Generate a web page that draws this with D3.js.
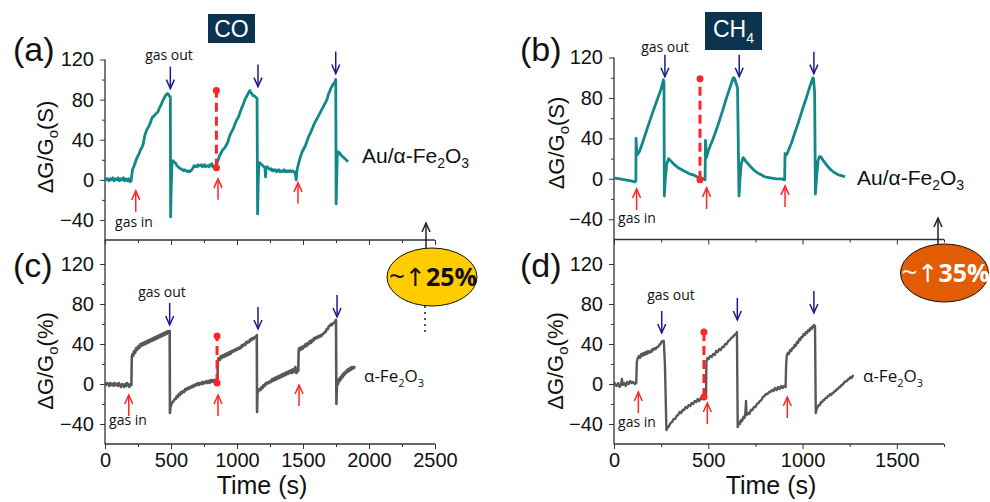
<!DOCTYPE html>
<html><head><meta charset="utf-8">
<script src="https://cdn.jsdelivr.net/npm/d3@7"></script>
<style>
body{margin:0;background:#fff}
text{font-family:"Liberation Sans",Arial,sans-serif}
</style>
</head><body><svg id="chart" width="990" height="502"></svg>
<script>
// ---- data: conductance response [time (s), ΔG/Go] ----
const auCO = [
[0,2],[10,0],[20,1],[30,-1],[40,1],[50,0],[60,2],[70,-1],[80,1],[90,0],[100,2],[110,-1],[120,1],[130,0],[140,2],[150,-1],[160,1],[170,-1],[180,1],[190,-2],[198,-1],
[204,6],[210,11],[218,13],[226,16],[234,19],[242,22],[250,24],[258,26],[266,29],[274,31],[282,33],[290,36],[298,42],[306,46],[314,49],[322,51],[330,53],[338,55],[346,58],[354,61],[362,63],[370,63],[378,65],[386,66],[394,67],[402,68],[410,71],[418,73],[426,75],[434,78],[442,80],[450,82],[458,84],[466,85],[474,86],[482,85],[490,83],[495,83],
[497,-37],[502,-5],[508,17],[514,19],[522,18],[530,17],[538,16],[546,14],[554,13],[562,12],[570,11],[578,11],[586,10],[594,9],[602,10],[610,9],[618,9],[626,8],[634,9],[642,8],[650,9],[658,10],[666,12],[674,14],[682,13],[690,14],[698,13],[706,15],[714,14],[722,14],[730,15],[738,13],[746,14],[754,15],[762,13],[770,14],[778,14],[786,13],[794,15],[802,14],[810,16],[818,13],[826,13],[834,12],[840,12],
[846,15],[852,18],[860,21],[868,24],[876,26],[884,28],[892,30],[900,31],[908,32],[916,34],[924,36],[932,38],[940,42],[948,45],[956,47],[964,49],[972,51],[980,54],[988,57],[996,59],[1004,61],[1012,63],[1020,66],[1028,69],[1036,72],[1044,74],[1052,77],[1060,80],[1068,82],[1076,84],[1084,86],[1092,88],[1098,89],[1104,87],[1112,86],[1120,84],[1128,84],[1136,83],[1144,82],[1152,81],
[1156,-34],[1160,-5],[1166,15],[1172,17],[1180,16],[1188,15],[1196,14],[1204,13],[1212,12],[1216,3],[1220,12],[1228,13],[1236,12],[1244,11],[1252,10],[1260,11],[1268,9],[1276,10],[1284,9],[1292,10],[1300,8],[1308,9],[1316,10],[1324,8],[1332,9],[1340,8],[1348,9],[1356,10],[1364,8],[1372,9],[1380,8],[1388,9],[1396,8],[1404,9],[1412,8],[1420,9],[1428,8],[1436,8],[1442,6],[1448,0],[1454,9],
[1462,14],[1470,18],[1478,22],[1486,25],[1494,28],[1502,30],[1510,32],[1518,34],[1526,37],[1534,40],[1542,43],[1550,45],[1558,47],[1566,50],[1574,52],[1582,55],[1590,57],[1598,59],[1606,61],[1614,63],[1622,65],[1630,67],[1638,69],[1646,71],[1654,73],[1662,75],[1670,77],[1678,79],[1686,82],[1694,86],[1702,88],[1710,91],[1718,93],[1726,95],[1734,96],[1742,98],[1748,100],
[1751,-24],[1755,0],[1760,27],[1766,28],[1772,26],[1778,27],[1786,25],[1794,24],[1802,23],[1810,22],[1818,21],[1826,20],[1834,19],[1841,18]
];

const auCH4 = [
[0,1],[30,0],[60,-1],[90,-2],[110,-3],[116,-2],[117,40],[121,25],[125,24],[135,27],[150,35],[175,49],[200,63],[225,76],[250,89],[258,95],[262,98],[265,95],
[267,-17],[272,0],[280,15],[290,20],[295,19],[305,17],[320,14],[340,11],[360,9],[380,7],[400,5],[420,4],[440,2],[460,1],[475,0],[483,-1],
[485,38],[490,21],[495,24],[500,28],[520,37],[540,47],[560,58],[580,70],[600,82],[620,93],[633,100],[640,99],[648,94],[655,90],
[663,-17],[668,0],[675,15],[685,21],[690,20],[700,17],[720,13],[740,9],[760,6],[780,4],[800,2],[830,1],[860,0],[890,0],[905,-1],
[907,25],[910,23],[916,24],[940,35],[960,46],[980,57],[1000,69],[1020,80],[1040,92],[1055,100],[1058,99],[1064,85],
[1068,-15],[1074,0],[1082,18],[1090,22],[1096,22],[1110,18],[1130,13],[1150,9],[1170,6],[1190,4],[1210,3],[1225,2]
];

const feCO = [
[0,1],[8,-1],[16,1],[24,0],[32,-2],[40,1],[48,-1],[56,0],[64,-2],[72,1],[80,-1],[88,0],[96,-2],[104,1],[112,-1],[120,-3],[128,0],[136,-1],[144,-3],[152,0],[160,-2],[168,1],[176,-1],[184,-3],[192,0],[200,-1],
[203,27],[208,30],[214,28],[220,33],[228,31],[236,36],[244,34],[252,38],[260,36],[268,40],[276,38],[284,41],[292,39],[300,42],[308,40],[316,43],[324,41],[332,44],[340,42],[348,45],[356,43],[364,46],[372,44],[380,47],[388,45],[396,48],[404,46],[412,49],[420,47],[428,50],[436,48],[444,51],[452,49],[460,52],[468,50],[476,53],[484,51],[490,53],
[492,-29],[496,-23],[504,-20],[512,-18],[520,-17],[528,-15],[536,-15],[544,-12],[552,-13],[560,-10],[568,-11],[576,-8],[584,-9],[592,-7],[600,-8],[608,-5],[616,-6],[624,-4],[632,-5],[640,-3],[648,-4],[656,-2],[664,-3],[672,-1],[680,-2],[688,0],[696,-1],[704,1],[712,-1],[720,1],[728,0],[736,2],[744,0],[752,2],[760,1],[768,3],[776,1],[784,3],[792,1],[800,4],[808,2],[816,4],[824,2],[832,4],[840,3],[848,2],
[852,1],[855,23],[862,26],[870,24],[878,28],[886,26],[894,29],[902,27],[910,30],[918,28],[926,31],[934,29],[942,32],[950,30],[958,33],[966,32],[974,34],[982,33],[990,35],[998,34],[1006,36],[1014,35],[1022,37],[1030,36],[1038,39],[1046,38],[1054,40],[1062,39],[1070,42],[1078,41],[1086,43],[1094,42],[1102,45],[1110,44],[1118,46],[1126,45],[1134,47],[1142,47],[1150,49],
[1152,-28],[1155,-9],[1162,-7],[1170,-5],[1178,-6],[1186,-3],[1194,-4],[1202,-1],[1210,-2],[1218,1],[1226,0],[1234,2],[1242,1],[1250,3],[1258,2],[1266,5],[1274,3],[1282,6],[1290,4],[1298,7],[1306,5],[1314,8],[1322,6],[1330,9],[1338,7],[1346,10],[1354,8],[1362,11],[1370,9],[1378,12],[1386,10],[1394,13],[1402,11],[1410,14],[1418,11],[1426,15],[1434,12],[1442,17],[1450,11],[1458,14],[1464,13],
[1467,33],[1472,36],[1480,34],[1488,37],[1496,35],[1504,38],[1512,37],[1520,40],[1528,38],[1536,41],[1544,40],[1552,43],[1560,41],[1568,44],[1576,43],[1584,46],[1592,45],[1600,47],[1608,46],[1616,48],[1624,47],[1632,49],[1640,48],[1648,50],[1656,50],[1664,52],[1672,52],[1680,55],[1688,55],[1696,58],[1704,58],[1712,60],[1720,59],[1728,61],[1736,61],[1744,63],[1750,64],
[1753,-20],[1756,-5],[1760,2],[1766,0],[1772,5],[1778,3],[1784,7],[1790,5],[1796,9],[1802,7],[1808,11],[1814,9],[1820,12],[1826,11],[1832,14],[1838,12],[1844,15],[1850,13],[1856,16],[1862,14],[1868,17],[1874,15],[1880,17],[1886,16],[1892,18]
];

const feCH4 = [
[0,2],[8,-1],[14,-2],[22,1],[30,-3],[38,0],[42,5],[46,-1],[54,1],[62,-2],[70,2],[78,0],[86,3],[94,1],[102,2],[110,0],[118,1],
[121,22],[126,26],[132,28],[138,26],[144,30],[150,28],[156,31],[162,29],[168,32],[174,30],[180,33],[186,31],[192,33],[198,32],[204,35],[210,34],[216,36],[222,35],[228,37],[234,37],[240,39],[246,40],[252,42],[258,43],[264,43],
[270,20],[278,-46],[284,-44],[292,-42],[300,-39],[308,-38],[316,-35],[324,-35],[332,-32],[340,-31],[348,-28],[356,-29],[364,-26],[372,-26],[380,-23],[388,-24],[396,-21],[404,-22],[412,-19],[420,-20],[428,-17],[436,-18],[444,-15],[452,-17],[460,-14],[468,-15],[476,-13],[484,-13],
[488,-12],[490,22],[496,26],[502,25],[510,28],[518,27],[526,30],[534,29],[542,33],[550,32],[558,35],[566,34],[574,37],[582,37],[590,40],[598,40],[606,43],[614,44],[622,46],[630,47],[638,49],[646,50],[652,52],
[656,-43],[662,-38],[668,-40],[674,-36],[680,-37],[686,-33],[692,-34],[697,-28],[700,-17],[703,-31],[710,-29],[718,-30],[726,-26],[734,-26],[742,-23],[750,-23],[758,-20],[766,-19],[774,-17],[782,-16],[790,-13],[798,-12],[806,-10],[814,-10],[822,-8],[830,-8],[838,-6],[846,-7],[854,-4],[862,-6],[870,-3],[878,-5],[886,-2],[894,-4],[902,-2],[910,-3],
[913,20],[916,28],[922,31],[928,30],[934,34],[940,33],[946,36],[952,36],[958,39],[964,38],[970,42],[976,41],[982,45],[988,44],[994,47],[1000,47],[1006,50],[1012,49],[1018,52],[1024,51],[1030,54],[1036,53],[1042,56],[1048,55],[1054,58],[1058,57],[1062,59],[1066,57],
[1070,-29],[1074,-25],[1080,-23],[1086,-21],[1092,-21],[1098,-18],[1104,-18],[1110,-16],[1116,-16],[1122,-14],[1128,-14],[1134,-12],[1140,-12],[1146,-10],[1152,-11],[1158,-9],[1164,-9],[1170,-7],[1176,-7],[1182,-5],[1188,-5],[1194,-3],[1200,-3],[1206,-1],[1212,-1],[1218,1],[1224,2],[1230,3],[1236,3],[1242,5],[1248,5],[1254,7],[1260,6],[1266,8],[1270,9]
];

// gas-switching events: [time, response level at arrow tip]
const gasOutAuCO  = [[495,91],[1159,93],[1748,106]];
const gasInAuCO   = [[233,-11],[856,1],[1462,-3]];
const gasOutAuCH4 = [[270,101],[664,101],[1060,104]];
const gasInAuCH4  = [[120,-10],[491,-9],[907,-7]];
const gasOutFeCO  = [[490,59],[1159,55],[1758,67]];
const gasInFeCO   = [[180,-11],[856,-11],[1470,-1]];
const gasOutFeCH4 = [[253,51],[654,64],[1060,71]];
const gasInFeCH4  = [[129,-8],[495,-19],[919,-13]];

// response step of the second cycle: [time, from, to]
const stepAuCO  = [844, 12, 89];
const stepAuCH4 = [456, -1, 99];
const stepFeCO  = [849, 1, 48];
const stepFeCH4 = [477, -13, 52];

const yTicks = [-40, 0, 40, 80, 120];
const yMinor = [-20, 20, 60, 100];
const xTicksCO = [0, 500, 1000, 1500, 2000, 2500];
const xMinorCO = [250, 750, 1250, 1750, 2250];
const xTicksCH4 = [0, 500, 1000, 1500];
const xMinorCH4 = [250, 750, 1250, 1750];
const gains = ["25%", "35%"];

// ---- drawing ----
const svg = d3.select("#chart");
const TEAL = "#128888", GRAY = "#585858", BLUE = "#1b1b8f", RED = "#ff2525", AXIS = "#333";

const panels = [
  {letter:"(a)", data:auCO, xMax:2500, xT:xTicksCO, xM:xMinorCO, xr:[105,435], yr:[240,59.5], axisTop:59.5, color:TEAL, width:2.8,
   out:gasOutAuCO, inn:gasInAuCO, step:stepAuCO, unit:"S", labels:true,
   letterPos:[13,61], yLab:[53,147], outLab:[169,60], inLab:[134,227],
   name:{text:["Au/α-Fe","2","O","3"], x:362, y:163, size:21, font:'"Liberation Sans",Arial'}},
  {letter:"(b)", data:auCH4, xMax:1750, xT:xTicksCH4, xM:xMinorCH4, xr:[614,944], yr:[239.5,57.5], axisTop:57.5, color:TEAL, width:2.8,
   out:gasOutAuCH4, inn:gasInAuCH4, step:stepAuCH4, unit:"S", labels:false,
   letterPos:[520,61], yLab:[564,143], outLab:[665,52], inLab:[637,223],
   name:{text:["Au/α-Fe","2","O","3"], x:857, y:185, size:21, font:'"Liberation Sans",Arial'}},
  {letter:"(c)", data:feCO, xMax:2500, xT:xTicksCO, xM:xMinorCO, xr:[105,435], yr:[444,264], axisTop:240, color:GRAY, width:2.6,
   out:gasOutFeCO, inn:gasInFeCO, step:stepFeCO, unit:"%", labels:true, bottom:true,
   letterPos:[13,277], yLab:[53,361], outLab:[162,297], inLab:[128,425],
   name:{text:["α-Fe","2","O","3"], x:364, y:382, size:17, font:'"Open Sans",sans-serif'}},
  {letter:"(d)", data:feCH4, xMax:1750, xT:xTicksCH4, xM:xMinorCH4, xr:[614,944], yr:[444,264], axisTop:240, color:GRAY, width:2.4,
   out:gasOutFeCH4, inn:gasInFeCH4, step:stepFeCH4, unit:"%", labels:false, bottom:true,
   letterPos:[520,277], yLab:[563,361], outLab:[671,300], inLab:[637,427],
   name:{text:["α-Fe","2","O","3"], x:863, y:382, size:17, font:'"Open Sans",sans-serif'}}
];

function vArrow(g, x, tip, len, dir, color, w) {
  // dir = 1: pointing down, -1: pointing up
  const tail = tip - dir * len;
  g.append("line").attr("x1", x).attr("x2", x).attr("y1", tail).attr("y2", tip)
    .attr("stroke", color).attr("stroke-width", w);
  g.append("path").attr("d", `M${x-4},${tip - dir*9}L${x},${tip}L${x+4},${tip - dir*9}`)
    .attr("fill", "none").attr("stroke", color).attr("stroke-width", w);
}

panels.forEach(p => {
  const x = d3.scaleLinear().domain([0, p.xMax]).range(p.xr);
  const y = d3.scaleLinear().domain([-60, 120]).range(p.yr);
  const g = svg.append("g");

  // axes
  const yAx = g.append("g").attr("transform", `translate(${p.xr[0]},0)`)
    .call(d3.axisLeft(y).tickValues(yTicks).tickSize(5).tickPadding(6));
  const yAxM = g.append("g").attr("transform", `translate(${p.xr[0]},0)`)
    .call(d3.axisLeft(y).tickValues(yMinor).tickSize(3).tickFormat(""));
  const xAx = g.append("g").attr("transform", `translate(0,${p.yr[0]})`)
    .call(d3.axisBottom(x).tickValues(p.xT).tickSize(5).tickPadding(4)
      .tickFormat(p.bottom ? d3.format("d") : ""));
  const xAxM = g.append("g").attr("transform", `translate(0,${p.yr[0]})`)
    .call(d3.axisBottom(x).tickValues(p.xM).tickSize(3).tickFormat(""));
  [yAx, yAxM, xAx, xAxM].forEach(a => {
    a.select(".domain").remove();
    a.selectAll("line").attr("stroke", AXIS);
    a.selectAll("text").attr("fill", "#111").style("font-size", "20px")
      .style("font-family", '"Liberation Sans",Arial,sans-serif');
  });
  g.append("line").attr("x1", p.xr[0]).attr("x2", p.xr[0]).attr("y1", p.axisTop).attr("y2", p.yr[0] + 0.5)
    .attr("stroke", AXIS).attr("stroke-width", 1.3);
  g.append("line").attr("x1", p.xr[0]).attr("x2", p.xr[1]).attr("y1", p.yr[0]).attr("y2", p.yr[0])
    .attr("stroke", AXIS).attr("stroke-width", 1.3);

  // response trace
  g.append("path").datum(p.data)
    .attr("d", d3.line().x(d => x(d[0])).y(d => y(d[1])))
    .attr("fill", "none").attr("stroke", p.color).attr("stroke-width", p.width)
    .attr("stroke-linejoin", "round");

  // gas in / gas out arrows
  p.out.forEach(d => vArrow(g, x(d[0]), y(d[1]), 22, 1, BLUE, 1.5));
  p.inn.forEach(d => vArrow(g, x(d[0]), y(d[1]), 21, -1, RED, 1.5));

  // response step marker
  const sx = x(p.step[0]);
  g.append("line").attr("x1", sx).attr("x2", sx).attr("y1", y(p.step[1])).attr("y2", y(p.step[2]))
    .attr("stroke", RED).attr("stroke-width", 3).attr("stroke-dasharray", "9,5");
  [p.step[1], p.step[2]].forEach(v => g.append("circle").attr("cx", sx).attr("cy", y(v)).attr("r", 3.5).attr("fill", RED));

  // texts
  g.append("text").attr("x", p.outLab[0]).attr("y", p.outLab[1]).attr("text-anchor", "middle")
    .style("font-family", '"Open Sans",sans-serif').style("font-size", "14px").attr("fill", "#111").text("gas out");
  g.append("text").attr("x", p.inLab[0]).attr("y", p.inLab[1]).attr("text-anchor", "middle")
    .style("font-family", '"Open Sans",sans-serif').style("font-size", "14px").attr("fill", "#111").text("gas in");

  g.append("text").attr("x", p.letterPos[0]).attr("y", p.letterPos[1])
    .style("font-size", "34px").attr("fill", "#111").text(p.letter);

  const yl = g.append("text").attr("transform", `translate(${p.yLab[0]},${p.yLab[1]}) rotate(-90)`)
    .attr("text-anchor", "middle").style("font-size", "22px").attr("fill", "#111");
  yl.append("tspan").text("ΔG/G");
  yl.append("tspan").attr("dy", 5).style("font-size", "15px").text("o");
  yl.append("tspan").attr("dy", -5).text("(" + p.unit + ")");

  const nm = g.append("text").attr("x", p.name.x).attr("y", p.name.y)
    .style("font-family", p.name.font).style("font-size", p.name.size + "px").attr("fill", "#111");
  nm.append("tspan").text(p.name.text[0]);
  nm.append("tspan").attr("dy", 5).style("font-size", Math.round(p.name.size * 0.65) + "px").text(p.name.text[1]);
  nm.append("tspan").attr("dy", -5).text(p.name.text[2]);
  nm.append("tspan").attr("dy", 5).style("font-size", Math.round(p.name.size * 0.65) + "px").text(p.name.text[3]);

  if (p.bottom) {
    g.append("text").attr("x", (p.xr[0] + p.xr[1]) / 2 - 8).attr("y", 494).attr("text-anchor", "middle")
      .style("font-size", "25px").attr("fill", "#111").text("Time (s)");
  }
});

// gas headers
const hdr = svg.append("g");
hdr.append("rect").attr("x", 208).attr("y", 14).attr("width", 47).attr("height", 29).attr("fill", "#0c3350");
hdr.append("text").attr("x", 231.5).attr("y", 37).attr("text-anchor", "middle").style("font-size", "23px").attr("fill", "#fff").text("CO");
hdr.append("rect").attr("x", 705).attr("y", 12).attr("width", 57).attr("height", 38).attr("fill", "#0c3350");
const ch = hdr.append("text").attr("x", 733.5).attr("y", 37).attr("text-anchor", "middle").style("font-size", "23px").attr("fill", "#fff");
ch.append("tspan").text("CH");
ch.append("tspan").attr("dy", 6).style("font-size", "14px").text("4");

// enhancement badges
function badge(cx, cy, rx, ry, fill, txtColor, ax, aTop, label, dotted) {
  const b = svg.append("g");
  vArrow(b, ax, aTop, cy - ry - aTop, -1, "#222", 1.5);
  if (dotted) {
    b.append("line").attr("x1", ax - 1).attr("x2", ax - 1).attr("y1", cy + ry).attr("y2", cy + ry + 27)
      .attr("stroke", "#222").attr("stroke-width", 1.5).attr("stroke-dasharray", "2,4");
  }
  b.append("ellipse").attr("cx", cx).attr("cy", cy).attr("rx", rx).attr("ry", ry)
    .attr("fill", fill).attr("stroke", "#111").attr("stroke-width", 1);
  const t = b.append("text").attr("x", cx + 1).attr("y", cy + 9).attr("text-anchor", "middle")
    .attr("fill", txtColor).style("font-family", '"Open Sans",sans-serif').style("font-size", "25px");
  t.append("tspan").style("font-size", "28px").text("~");
  t.append("tspan").style("font-family", '"DejaVu Sans",sans-serif').style("font-weight", "normal").text("↑");
  t.append("tspan").style("font-weight", "bold").text(label);
}
badge(432, 277, 45, 29, "#ffcc00", "#111", 426, 223, gains[0], true);
badge(944.5, 273, 44, 29, "#e25c05", "#fff", 938, 218, gains[1], false);
</script></body></html>
